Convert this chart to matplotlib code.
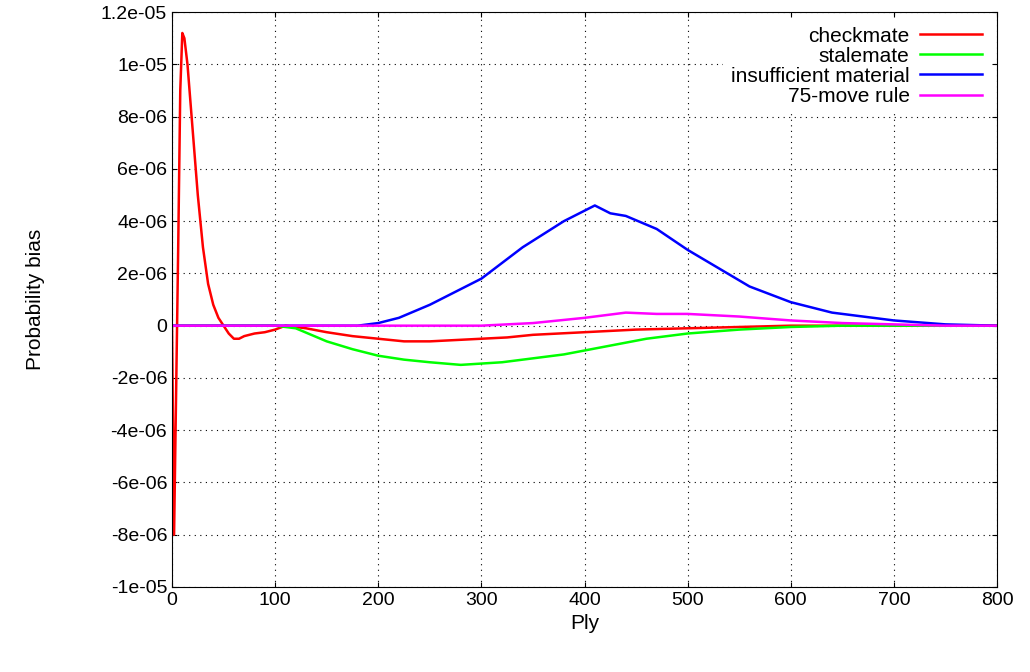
import matplotlib
matplotlib.use("Agg")
import matplotlib.pyplot as plt
import numpy as np

plt.rcParams["font.family"] = "Liberation Sans"

# values (ply, probability bias in units of 1e-6)
checkmate_ply = [0, 2, 4, 6, 8, 10, 12, 15, 20, 25, 30, 35, 40, 45, 50, 55, 60, 65, 70, 80, 90, 100,
                 110, 130, 150, 175, 200, 225, 250, 275, 300, 325, 350, 375, 400, 450, 500, 550, 600, 700, 800]
checkmate_val = [0, -8.0, -2.5, 3.0, 9.0, 11.2, 11.0, 10.0, 7.5, 5.0, 3.0, 1.6, 0.8, 0.3, 0.0, -0.3, -0.5, -0.5, -0.4, -0.3, -0.25, -0.15,
                 0.0, -0.1, -0.25, -0.4, -0.5, -0.6, -0.6, -0.55, -0.5, -0.45, -0.35, -0.3, -0.25, -0.15, -0.1, -0.05, 0.0, 0.0, 0.0]

stalemate_ply = [0, 100, 120, 150, 175, 200, 225, 250, 280, 300, 320, 350, 380, 420, 460, 500, 550, 600, 650, 800]
stalemate_val = [0, 0, -0.1, -0.6, -0.9, -1.15, -1.3, -1.4, -1.5, -1.45, -1.4, -1.25, -1.1, -0.8, -0.5, -0.3, -0.15, -0.05, 0.0, 0.0]

insufficient_ply = [0, 180, 200, 220, 250, 275, 300, 320, 340, 360, 380, 400, 410, 425, 440, 470, 500, 530, 560, 600, 640, 700, 750, 800]
insufficient_val = [0, 0, 0.1, 0.3, 0.8, 1.3, 1.8, 2.4, 3.0, 3.5, 4.0, 4.4, 4.6, 4.3, 4.2, 3.7, 2.9, 2.2, 1.5, 0.9, 0.5, 0.2, 0.05, 0.0]

move75_ply = [0, 300, 350, 375, 400, 420, 440, 470, 500, 550, 600, 650, 700, 750, 800]
move75_val = [0, 0, 0.1, 0.2, 0.3, 0.4, 0.5, 0.45, 0.45, 0.35, 0.2, 0.1, 0.05, 0.0, 0.0]

yticks = np.arange(-10, 13, 2) * 1e-6
ytick_labels = ["-1e-05", "-8e-06", "-6e-06", "-4e-06", "-2e-06", "0", "2e-06",
                "4e-06", "6e-06", "8e-06", "1e-05", "1.2e-05"]

fig = plt.figure(figsize=(10.3, 6.72), dpi=100)
ax = fig.add_axes([0.167, 0.1265, 0.801, 0.8555])

series = [
    (checkmate_ply, checkmate_val, "#ff0000", "checkmate"),
    (stalemate_ply, stalemate_val, "#00ff00", "stalemate"),
    (insufficient_ply, insufficient_val, "#0000ff", "insufficient material"),
    (move75_ply, move75_val, "#ff00ff", "75-move rule"),
]
for x, y, c, lab in series:
    ax.plot(x, np.array(y) * 1e-6, color=c, lw=1.8, label=lab)

ax.set_xlim(0, 800)
ax.set_ylim(-1e-5, 1.2e-5)
ax.set_xticks(range(0, 801, 100))
ax.set_yticks(yticks)
ax.set_yticklabels(ytick_labels)
ax.grid(True, color="black", linestyle=(0, (1, 4)), lw=0.8)
ax.tick_params(direction="in", labelsize=14, top=True, right=True)
ax.set_xlabel("Ply", fontsize=15)
ax.set_ylabel("Probability bias", fontsize=15, labelpad=40)

leg = ax.legend(loc="upper right", fontsize=15, frameon=True, facecolor="white", edgecolor="none",
                framealpha=1, markerfirst=False, handlelength=3.0, handletextpad=0.5,
                borderaxespad=0.3, labelspacing=0.05, fancybox=False)
for t in leg.get_texts():
    t.set_ha("right")
leg._legend_box.align = "right"

fig.savefig("out.png", dpi=100)
